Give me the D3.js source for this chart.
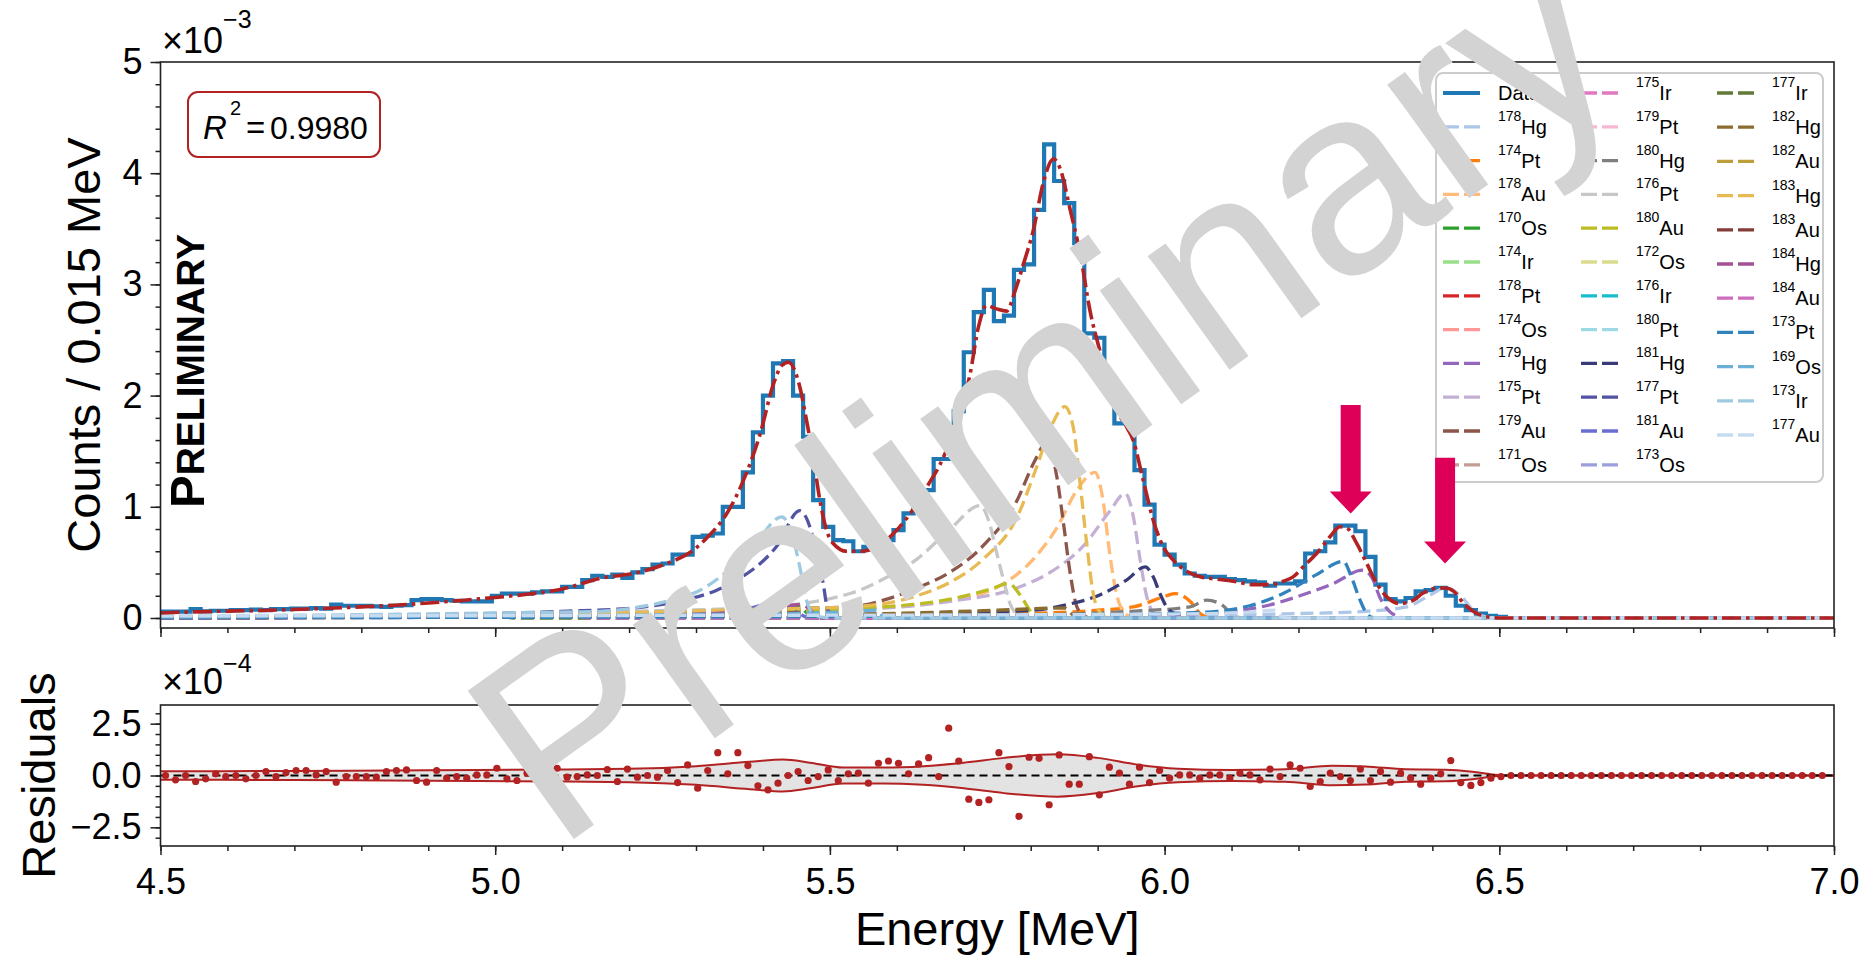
<!DOCTYPE html>
<html>
<head>
<meta charset="utf-8">
<script src="https://cdn.jsdelivr.net/npm/d3@7"></script>
<style>
    html, body { margin: 0; padding: 0; background: #fff; }
    svg { display: block; }
</style>
</head>
<body>
<div id="chart"></div>
<script>
// ---- data (counts in 1e-3, residuals in 1e-4) ----
const binStart = 4.5;
const binWidth = 0.015;

const counts = [
    0.057, 0.057, 0.057, 0.08, 0.06, 0.065, 0.065, 0.07, 0.07, 0.075,
    0.07, 0.08, 0.08, 0.085, 0.085, 0.09, 0.085, 0.12, 0.11, 0.11,
    0.11, 0.105, 0.10, 0.11, 0.115, 0.16, 0.17, 0.17, 0.16, 0.155,
    0.15, 0.15, 0.15, 0.20, 0.22, 0.22, 0.22, 0.23, 0.24, 0.24,
    0.28, 0.28, 0.34, 0.38, 0.37, 0.39, 0.36, 0.41, 0.44, 0.48,
    0.49, 0.57, 0.57, 0.73, 0.74, 0.76, 1.00, 1.00, 1.31, 1.67,
    2.00, 2.29, 2.31, 2.00, 1.63, 1.06, 0.82, 0.70, 0.69, 0.60,
    0.64, 0.61, 0.70, 0.79, 0.94, 1.14, 1.15, 1.43, 1.43, 1.86,
    2.39, 2.75, 2.95, 2.67, 2.72, 3.13, 3.18, 3.67, 4.26, 3.93,
    3.73, 3.37, 2.56, 2.52, 2.07, 1.75, 1.75, 1.33, 1.02, 0.66,
    0.57, 0.48, 0.40, 0.38, 0.37, 0.37, 0.35, 0.34, 0.33, 0.32,
    0.29, 0.31, 0.31, 0.33, 0.58, 0.60, 0.68, 0.83, 0.83, 0.78,
    0.55, 0.30, 0.17, 0.15, 0.18, 0.24, 0.25, 0.27, 0.20, 0.11,
    0.07, 0.04, 0.02, 0.01, 0, 0, 0, 0, 0, 0,
    0, 0, 0, 0, 0, 0, 0, 0, 0, 0,
    0, 0, 0, 0, 0, 0, 0, 0, 0, 0,
    0, 0, 0, 0, 0, 0
];

const residuals = [
    0.00, -0.21, 0.00, -0.29, -0.16, 0.08, -0.05, 0.00, -0.16, 0.00,
    0.19, -0.05, 0.14, 0.24, 0.24, 0.03, 0.19, -0.32, -0.05, -0.05,
    -0.05, -0.08, 0.19, 0.24, 0.27, -0.24, -0.32, 0.24, -0.13, -0.05,
    -0.13, 0.03, 0.03, 0.35, -0.16, -0.24, 0.11, -0.13, -0.02, 0.35,
    -0.08, -0.05, 0.03, 0.00, 0.29, -0.29, 0.31, -0.08, 0.00, -0.08,
    0.24, -0.34, 0.51, -0.61, 0.24, 1.10, 0.08, 1.10, 0.48, -0.50,
    -0.69, -0.37, 0.00, 0.19, -0.24, -0.05, 0.27, -0.24, 0.08, 0.11,
    -0.37, 0.59, 0.70, 0.59, 0.08, 0.56, 0.86, -0.05, 2.28, 0.70,
    -1.14, -1.30, -1.17, 1.10, 0.43, -1.97, 0.88, 0.83, -1.41, 0.99,
    -0.42, -0.42, 0.91, -0.93, 0.40, 0.11, -0.42, 0.40, -0.34, 0.24,
    -0.13, 0.03, 0.03, -0.13, 0.03, 0.03, -0.13, 0.11, 0.03, -0.21,
    0.31, -0.05, 0.51, 0.35, -0.53, -0.29, 0.11, -0.05, -0.24, 0.31,
    -0.24, 0.19, -0.32, 0.11, -0.13, -0.42, -0.13, 0.08, 0.72, -0.34,
    -0.48, -0.34, -0.13, -0.05, 0, 0, 0, 0, 0, 0,
    0, 0, 0, 0, 0, 0, 0, 0, 0, 0,
    0, 0, 0, 0, 0, 0, 0, 0, 0, 0,
    0, 0, 0, 0, 0, 0
];

// total fit [E, counts]
const fitCurve = [
    [4.50, 0.045], [4.55, 0.055], [4.60, 0.062], [4.65, 0.068], [4.70, 0.076], [4.75, 0.088],
    [4.80, 0.10], [4.85, 0.115], [4.90, 0.135], [4.95, 0.158], [5.00, 0.185], [5.05, 0.215],
    [5.10, 0.26], [5.157, 0.357], [5.206, 0.40], [5.256, 0.49], [5.296, 0.61], [5.316, 0.72],
    [5.346, 0.94], [5.371, 1.24], [5.396, 1.66], [5.416, 2.11], [5.428, 2.27], [5.438, 2.30],
    [5.455, 2.08], [5.465, 1.78], [5.475, 1.45], [5.485, 1.06], [5.495, 0.79], [5.505, 0.67],
    [5.525, 0.60], [5.545, 0.60], [5.57, 0.64], [5.595, 0.76], [5.62, 0.94], [5.645, 1.18],
    [5.67, 1.45], [5.694, 1.85], [5.709, 2.18], [5.722, 2.62], [5.734, 2.81], [5.749, 2.78],
    [5.764, 2.76], [5.776, 2.93], [5.789, 3.18], [5.804, 3.49], [5.819, 3.92], [5.834, 4.13],
    [5.844, 4.04], [5.859, 3.67], [5.874, 3.27], [5.889, 2.75], [5.903, 2.41], [5.913, 2.19],
    [5.928, 1.88], [5.943, 1.72], [5.953, 1.60], [5.968, 1.24], [5.983, 0.88], [5.998, 0.64],
    [6.013, 0.52], [6.033, 0.42], [6.053, 0.37], [6.078, 0.35], [6.103, 0.33], [6.133, 0.30],
    [6.157, 0.30], [6.177, 0.33], [6.192, 0.37], [6.207, 0.46], [6.227, 0.58], [6.247, 0.73],
    [6.262, 0.82], [6.272, 0.81], [6.287, 0.67], [6.302, 0.49], [6.317, 0.31], [6.332, 0.19],
    [6.352, 0.13], [6.372, 0.16], [6.385, 0.22], [6.409, 0.27], [6.42, 0.27], [6.432, 0.24],
    [6.447, 0.13], [6.461, 0.06], [6.479, 0.013], [6.50, 0], [7.0, 0]
];

// half width of the residual uncertainty band [E, 1e-4]
const bandHalfWidth = [
    [4.5, 0.2], [4.7, 0.22], [4.9, 0.25], [5.1, 0.29], [5.2, 0.32], [5.3, 0.45], [5.38, 0.66],
    [5.43, 0.77], [5.47, 0.62], [5.52, 0.38], [5.58, 0.38], [5.64, 0.45], [5.70, 0.62],
    [5.76, 0.85], [5.84, 1.02], [5.90, 0.85], [5.96, 0.52], [6.02, 0.33], [6.10, 0.27],
    [6.18, 0.30], [6.25, 0.47], [6.30, 0.44], [6.36, 0.30], [6.42, 0.28], [6.46, 0.18],
    [6.49, 0.05], [6.51, 0], [7.0, 0]
];

const isotopes = [
    '178Hg', '174Pt', '178Au', '170Os', '174Ir', '178Pt', '174Os', '179Hg', '175Pt', '179Au', '171Os',
    '175Ir', '179Pt', '180Hg', '176Pt', '180Au', '172Os', '176Ir', '180Pt', '181Hg', '177Pt', '181Au', '173Os',
    '177Ir', '182Hg', '182Au', '183Hg', '183Au', '184Hg', '184Au', '173Pt', '169Os', '173Ir', '177Au'
];

const isotopeColors = [
    '#aec7e8', '#ff7f0e', '#ffbb78', '#2ca02c', '#98df8a', '#d62728', '#ff9896', '#9467bd', '#c5b0d5', '#8c564b', '#c49c94',
    '#e377c2', '#f7b6d2', '#7f7f7f', '#c7c7c7', '#bcbd22', '#dbdb8d', '#17becf', '#9edae5', '#393b79', '#5254a3', '#6b6ecf', '#9c9ede',
    '#637939', '#8c6d31', '#bd9e39', '#e7ba52', '#843c39', '#a55194', '#ce6dbd', '#3182bd', '#6baed6', '#9ecae1', '#c6dbef'
];

// component curves, same order as isotopes [E, counts]
const componentCurves = [
    [[4.5, 0.005], [6.0, 0.02], [6.2, 0.04], [6.3, 0.06], [6.362, 0.1], [6.395, 0.2], [6.42, 0.27], [6.444, 0.19], [6.461, 0.07], [6.48, 0.01], [6.5, 0], [7, 0]],
    [[4.5, 0.002], [5.6, 0.02], [5.8, 0.04], [5.9, 0.07], [5.953, 0.1], [6.003, 0.2], [6.015, 0.22], [6.038, 0.15], [6.053, 0.04], [6.065, 0.005], [6.08, 0], [7, 0]],
    [[4.5, 0.01], [5.3, 0.06], [5.58, 0.1], [5.68, 0.16], [5.754, 0.29], [5.804, 0.53], [5.839, 0.81], [5.869, 1.15], [5.896, 1.31], [5.908, 1.06], [5.918, 0.58], [5.928, 0.22], [5.938, 0.06], [5.95, 0.01], [5.96, 0], [7, 0]],
    [[4.5, 0.002], [5.3, 0.03], [5.42, 0.09], [5.45, 0.11], [5.465, 0.05], [5.475, 0.005], [5.49, 0], [7, 0]],
    [[4.5, 0.002], [5.3, 0.02], [5.45, 0.06], [5.47, 0.07], [5.48, 0.02], [5.49, 0], [7, 0]],
    [[4.5, 0.002], [5.35, 0.03], [5.44, 0.06], [5.455, 0.01], [5.465, 0], [7, 0]],
    [[4.5, 0.002], [5.15, 0.02], [5.25, 0.04], [5.26, 0.01], [5.27, 0], [7, 0]],
    [[4.5, 0.002], [5.9, 0.02], [6.05, 0.04], [6.103, 0.06], [6.152, 0.11], [6.202, 0.2], [6.252, 0.31], [6.296, 0.43], [6.31, 0.36], [6.322, 0.18], [6.336, 0.06], [6.35, 0.01], [6.36, 0], [7, 0]],
    [[4.5, 0.01], [5.3, 0.05], [5.58, 0.09], [5.68, 0.15], [5.779, 0.27], [5.829, 0.41], [5.879, 0.65], [5.918, 0.96], [5.941, 1.12], [5.953, 0.92], [5.963, 0.54], [5.973, 0.2], [5.983, 0.05], [5.995, 0.01], [6.005, 0], [7, 0]],
    [[4.5, 0.01], [5.2, 0.05], [5.4, 0.08], [5.53, 0.1], [5.58, 0.16], [5.63, 0.27], [5.679, 0.41], [5.729, 0.65], [5.779, 1.05], [5.805, 1.4], [5.824, 1.58], [5.839, 1.27], [5.849, 0.85], [5.859, 0.4], [5.869, 0.1], [5.88, 0.02], [5.89, 0], [7, 0]],
    [[4.5, 0.002], [5.2, 0.02], [5.36, 0.05], [5.375, 0.02], [5.385, 0], [7, 0]],
    [[4.5, 0.002], [5.3, 0.02], [5.38, 0.05], [5.395, 0.02], [5.41, 0], [7, 0]],
    [[4.5, 0.002], [5.1, 0.02], [5.19, 0.04], [5.2, 0.01], [5.21, 0], [7, 0]],
    [[4.5, 0.002], [5.8, 0.03], [5.95, 0.06], [6.038, 0.1], [6.063, 0.16], [6.085, 0.12], [6.1, 0.04], [6.11, 0.005], [6.12, 0], [7, 0]],
    [[4.5, 0.01], [5.2, 0.06], [5.4, 0.1], [5.53, 0.22], [5.58, 0.35], [5.63, 0.53], [5.68, 0.8], [5.724, 1.01], [5.739, 0.84], [5.749, 0.59], [5.759, 0.35], [5.769, 0.13], [5.78, 0.03], [5.79, 0.005], [5.8, 0], [7, 0]],
    [[4.5, 0.005], [5.3, 0.04], [5.58, 0.1], [5.68, 0.17], [5.74, 0.26], [5.767, 0.31], [5.785, 0.2], [5.8, 0.06], [5.815, 0.01], [5.825, 0], [7, 0]],
    [[4.5, 0.002], [5.0, 0.02], [5.1, 0.04], [5.11, 0.01], [5.12, 0], [7, 0]],
    [[4.5, 0.002], [5.05, 0.02], [5.12, 0.04], [5.13, 0.01], [5.14, 0], [7, 0]],
    [[4.5, 0.003], [5.08, 0.02], [5.14, 0.05], [5.155, 0.01], [5.165, 0], [7, 0]],
    [[4.5, 0.005], [5.5, 0.03], [5.7, 0.05], [5.804, 0.07], [5.854, 0.12], [5.904, 0.21], [5.943, 0.34], [5.971, 0.46], [5.983, 0.37], [5.993, 0.22], [6.003, 0.1], [6.018, 0.03], [6.03, 0.005], [6.04, 0], [7, 0]],
    [[4.5, 0.01], [4.9, 0.03], [5.1, 0.06], [5.206, 0.09], [5.281, 0.16], [5.331, 0.25], [5.366, 0.36], [5.396, 0.49], [5.42, 0.64], [5.455, 0.965], [5.47, 0.82], [5.48, 0.58], [5.49, 0.31], [5.497, 0.07], [5.51, 0.01], [5.52, 0], [7, 0]],
    [[4.5, 0.002], [5.2, 0.02], [5.35, 0.05], [5.425, 0.14], [5.445, 0.1], [5.46, 0.02], [5.47, 0], [7, 0]],
    [[4.5, 0.003], [5.2, 0.02], [5.33, 0.04], [5.345, 0.01], [5.355, 0], [7, 0]],
    [[4.5, 0.003], [4.95, 0.02], [5.01, 0.03], [5.02, 0.005], [5.03, 0], [7, 0]],
    [[4.5, 0.002], [5.5, 0.03], [5.75, 0.07], [5.85, 0.09], [5.865, 0.02], [5.875, 0], [7, 0]],
    [[4.5, 0.002], [5.4, 0.03], [5.52, 0.05], [5.535, 0.01], [5.545, 0], [7, 0]],
    [[4.5, 0.01], [5.2, 0.05], [5.4, 0.08], [5.53, 0.1], [5.63, 0.2], [5.679, 0.32], [5.729, 0.53], [5.779, 0.9], [5.809, 1.36], [5.829, 1.7], [5.851, 1.9], [5.864, 1.7], [5.874, 1.2], [5.884, 0.65], [5.894, 0.2], [5.905, 0.04], [5.915, 0], [7, 0]],
    [[4.5, 0.002], [5.38, 0.03], [5.46, 0.05], [5.475, 0.01], [5.485, 0], [7, 0]],
    [[4.5, 0.002], [5.2, 0.02], [5.38, 0.06], [5.455, 0.12], [5.47, 0.08], [5.48, 0.01], [5.49, 0], [7, 0]],
    [[4.5, 0.002], [5.05, 0.02], [5.12, 0.03], [5.13, 0.005], [5.14, 0], [7, 0]],
    [[4.5, 0.002], [5.8, 0.02], [6.0, 0.04], [6.078, 0.06], [6.127, 0.11], [6.177, 0.22], [6.227, 0.39], [6.267, 0.51], [6.279, 0.37], [6.292, 0.16], [6.302, 0.04], [6.31, 0.005], [6.32, 0], [7, 0]],
    [[4.5, 0.01], [5.3, 0.03], [5.5, 0.05], [5.57, 0.07], [5.58, 0.01], [5.59, 0], [7, 0]],
    [[4.5, 0.02], [4.8, 0.03], [5.0, 0.045], [5.157, 0.06], [5.206, 0.09], [5.256, 0.15], [5.306, 0.25], [5.356, 0.47], [5.39, 0.68], [5.428, 0.91], [5.443, 0.76], [5.455, 0.46], [5.465, 0.16], [5.475, 0.04], [5.49, 0.005], [5.5, 0], [7, 0]],
    [[4.5, 0.02], [5.5, 0.025], [6.0, 0.035], [6.12, 0.05], [6.165, 0.07], [6.175, 0.01], [6.185, 0], [7, 0]]
];

// arrows marking the two small peaks: energy, top and tip in counts
const arrowMarks = [
    { energy: 6.278, from: 1.915, to: 0.94 },
    { energy: 6.419, from: 1.44, to: 0.49 }
];

const xTicks = [4.5, 5.0, 5.5, 6.0, 6.5, 7.0];
const yTicksTop = [0, 1, 2, 3, 4, 5];
const yTicksRes = [-2.5, 0, 2.5];
const rSquared = '0.9980';

// ---- layout ----
const width = 1865;
const height = 961;
const font = '"Liberation Sans", Arial, Helvetica, sans-serif';
const axisColor = '#222';
const fitColor = '#b22222';

const svg = d3.select('#chart')
    .append('svg')
    .attr('width', width)
    .attr('height', height)
    .attr('font-family', font);

const x = d3.scaleLinear().domain([4.5, 7.0]).range([160.5, 1834]);
const yTop = d3.scaleLinear().domain([-0.09, 5]).range([628, 62]);
const yRes = d3.scaleLinear().domain([-3.4, 3.4]).range([846, 705]);

svg.append('defs').append('clipPath')
    .attr('id', 'clip-top')
    .append('rect')
    .attr('x', x.range()[0]).attr('y', yTop.range()[1])
    .attr('width', x.range()[1] - x.range()[0])
    .attr('height', yTop.range()[0] - yTop.range()[1]);

function styleAxis(g, fontSize) {
    g.attr('font-family', font).attr('font-size', fontSize);
    g.select('.domain').remove();
    g.selectAll('.tick line').attr('stroke', axisColor).attr('stroke-width', 1.5);
    g.selectAll('.tick text').attr('fill', '#000');
}

// ---- top panel ----
const topPanel = svg.append('g');
const plot = topPanel.append('g').attr('clip-path', 'url(#clip-top)');

// data histogram
const stepPoints = counts.map((v, k) => [binStart + k * binWidth, v]);
stepPoints.push([x.domain()[1], counts[counts.length - 1]]);

plot.append('path')
    .datum(stepPoints)
    .attr('fill', 'none')
    .attr('stroke', '#1f77b4')
    .attr('stroke-width', 4.2)
    .attr('d', d3.line().x(d => x(d[0])).y(d => yTop(d[1])).curve(d3.curveStepAfter));

// components
const smooth = d3.line().x(d => x(d[0])).y(d => yTop(d[1])).curve(d3.curveMonotoneX);

plot.selectAll('.component')
    .data(componentCurves)
    .enter().append('path')
    .attr('class', 'component')
    .attr('fill', 'none')
    .attr('stroke', (d, i) => isotopeColors[i])
    .attr('stroke-width', 3.3)
    .attr('stroke-dasharray', '13,6')
    .attr('d', smooth);

// total fit
plot.append('path')
    .datum(fitCurve)
    .attr('fill', 'none')
    .attr('stroke', fitColor)
    .attr('stroke-width', 3.6)
    .attr('stroke-dasharray', '19,5,3.5,5')
    .attr('d', smooth);

topPanel.append('rect')
    .attr('x', x.range()[0]).attr('y', yTop.range()[1])
    .attr('width', x.range()[1] - x.range()[0])
    .attr('height', yTop.range()[0] - yTop.range()[1])
    .attr('fill', 'none')
    .attr('stroke', axisColor)
    .attr('stroke-width', 1.6);

// axes top panel
topPanel.append('g')
    .attr('transform', `translate(0,${yTop.range()[0]})`)
    .call(d3.axisBottom(x).tickValues(x.ticks(25)).tickSize(5).tickFormat(''))
    .call(g => styleAxis(g, 36));
topPanel.append('g')
    .attr('transform', `translate(0,${yTop.range()[0]})`)
    .call(d3.axisBottom(x).tickValues(xTicks).tickSize(9).tickFormat(''))
    .call(g => styleAxis(g, 36));
topPanel.append('g')
    .attr('transform', `translate(${x.range()[0]},0)`)
    .call(d3.axisLeft(yTop).tickValues(yTop.ticks(25).filter(v => v >= 0)).tickSize(5).tickFormat(''))
    .call(g => styleAxis(g, 36));
topPanel.append('g')
    .attr('transform', `translate(${x.range()[0]},0)`)
    .call(d3.axisLeft(yTop).tickValues(yTicksTop).tickSize(10).tickPadding(8).tickFormat(d3.format('d')))
    .call(g => styleAxis(g, 36));

// offset text
topPanel.append('text')
    .attr('x', 162).attr('y', 53)
    .attr('font-size', 36)
    .text('×10')
    .append('tspan').attr('font-size', 25).attr('dy', -25).text('−3');

topPanel.append('text')
    .attr('transform', 'translate(100,345) rotate(-90)')
    .attr('text-anchor', 'middle')
    .attr('font-size', 47)
    .text('Counts / 0.015 MeV');

// PRELIMINARY label
const prelim = topPanel.append('text')
    .attr('transform', 'translate(204,508) rotate(-90)')
    .attr('font-weight', 'bold');
prelim.append('tspan').attr('font-size', 49).text('P');
prelim.append('tspan').attr('font-size', 39).text('RELIMINARY');

// R^2 box
const rBox = topPanel.append('g');
rBox.append('rect')
    .attr('x', 188).attr('y', 92)
    .attr('width', 192).attr('height', 65)
    .attr('rx', 10)
    .attr('fill', '#fff')
    .attr('stroke', fitColor)
    .attr('stroke-width', 2);
rBox.append('text').attr('x', 203).attr('y', 139).attr('font-size', 33)
    .attr('font-style', 'italic').text('R');
rBox.append('text').attr('x', 230).attr('y', 115).attr('font-size', 20).text('2');
rBox.append('text').attr('x', 246).attr('y', 139).attr('font-size', 33).text('=');
rBox.append('text').attr('x', 270).attr('y', 139).attr('font-size', 32).text(rSquared);

// ---- residual panel ----
const resPanel = svg.append('g');

const band = d3.area()
    .x(d => x(d[0]))
    .y0(d => yRes(-d[1]))
    .y1(d => yRes(d[1]))
    .curve(d3.curveMonotoneX);

resPanel.append('path')
    .datum(bandHalfWidth)
    .attr('fill', '#e3e3e3')
    .attr('d', band);

[1, -1].forEach(sign => {
    resPanel.append('path')
        .datum(bandHalfWidth)
        .attr('fill', 'none')
        .attr('stroke', fitColor)
        .attr('stroke-width', 2)
        .attr('d', d3.line().x(d => x(d[0])).y(d => yRes(sign * d[1])).curve(d3.curveMonotoneX));
});

resPanel.append('line')
    .attr('x1', x.range()[0]).attr('x2', x.range()[1])
    .attr('y1', yRes(0)).attr('y2', yRes(0))
    .attr('stroke', '#000')
    .attr('stroke-width', 2)
    .attr('stroke-dasharray', '8,5');

resPanel.selectAll('.resid')
    .data(residuals)
    .enter().append('circle')
    .attr('class', 'resid')
    .attr('cx', (d, k) => x(binStart + (k + 0.5) * binWidth))
    .attr('cy', d => yRes(d))
    .attr('r', 3.6)
    .attr('fill', fitColor);

resPanel.append('rect')
    .attr('x', x.range()[0]).attr('y', yRes.range()[1])
    .attr('width', x.range()[1] - x.range()[0])
    .attr('height', yRes.range()[0] - yRes.range()[1])
    .attr('fill', 'none')
    .attr('stroke', axisColor)
    .attr('stroke-width', 1.6);

resPanel.append('g')
    .attr('transform', `translate(0,${yRes.range()[0]})`)
    .call(d3.axisBottom(x).tickValues(x.ticks(25)).tickSize(5).tickFormat(''))
    .call(g => styleAxis(g, 36));
resPanel.append('g')
    .attr('transform', `translate(0,${yRes.range()[0]})`)
    .call(d3.axisBottom(x).tickValues(xTicks).tickSize(9).tickPadding(13).tickFormat(d3.format('.1f')))
    .call(g => styleAxis(g, 36));
resPanel.append('g')
    .attr('transform', `translate(${x.range()[0]},0)`)
    .call(d3.axisLeft(yRes).tickValues(yRes.ticks(14)).tickSize(5).tickFormat(''))
    .call(g => styleAxis(g, 36));
resPanel.append('g')
    .attr('transform', `translate(${x.range()[0]},0)`)
    .call(d3.axisLeft(yRes).tickValues(yTicksRes).tickSize(10).tickPadding(9).tickFormat(d3.format('.1f')))
    .call(g => styleAxis(g, 36));

resPanel.append('text')
    .attr('x', 162).attr('y', 694)
    .attr('font-size', 36)
    .text('×10')
    .append('tspan').attr('font-size', 25).attr('dy', -22).text('−4');

resPanel.append('text')
    .attr('transform', 'translate(55,775.5) rotate(-90)')
    .attr('text-anchor', 'middle')
    .attr('font-size', 47)
    .text('Residuals');

svg.append('text')
    .attr('x', (x.range()[0] + x.range()[1]) / 2)
    .attr('y', 945)
    .attr('text-anchor', 'middle')
    .attr('font-size', 47)
    .text('Energy [MeV]');

// ---- legend ----
const legend = svg.append('g');
legend.append('rect')
    .attr('x', 1436).attr('y', 73)
    .attr('width', 387).attr('height', 409)
    .attr('rx', 7)
    .attr('fill', '#fff').attr('fill-opacity', 0.8)
    .attr('stroke', '#cccccc').attr('stroke-width', 2);

const entries = [{ label: 'Data', color: '#1f77b4', solid: true }]
    .concat(isotopes.map((name, i) => ({ label: name, color: isotopeColors[i], solid: false })));
const colX = [1443, 1581, 1717];

entries.forEach((e, i) => {
    const col = Math.min(2, Math.floor(i / 12));
    const row = i - col * 12;
    const yy = col < 2 ? 93 + row * 33.8 : 93 + row * 34.2;
    const x0 = colX[col];
    legend.append('line')
        .attr('x1', x0).attr('x2', x0 + 37)
        .attr('y1', yy).attr('y2', yy)
        .attr('stroke', e.color)
        .attr('stroke-width', e.solid ? 4 : 3.3)
        .attr('stroke-dasharray', e.solid ? null : '16,5');
    const t = legend.append('text').attr('x', x0 + 55).attr('y', yy + 7).attr('font-size', 20);
    const m = e.label.match(/^(\d+)(\D+)$/);
    if (m) {
        t.append('tspan').attr('font-size', 14).attr('dy', -13).text(m[1]);
        t.append('tspan').attr('dy', 13).text(m[2]);
    } else {
        t.text(e.label);
    }
});

// ---- arrows ----
svg.selectAll('.arrow')
    .data(arrowMarks)
    .enter().append('path')
    .attr('class', 'arrow')
    .attr('fill', '#de0058')
    .attr('d', d => {
        const cx = x(d.energy), y0 = yTop(d.from), y1 = yTop(d.to);
        const yh = y1 - 22;
        return `M${cx - 10},${y0} L${cx + 10},${y0} L${cx + 10},${yh} L${cx + 21},${yh} ` +
            `L${cx},${y1} L${cx - 21},${yh} L${cx - 10},${yh} Z`;
    });

// ---- watermark ----
svg.append('text')
    .attr('transform', 'translate(1095,466) rotate(-35.6)')
    .attr('text-anchor', 'middle')
    .attr('font-size', 265)
    .attr('fill', '#d3d3d3')
    .text('Preliminary');
</script>
</body>
</html>
